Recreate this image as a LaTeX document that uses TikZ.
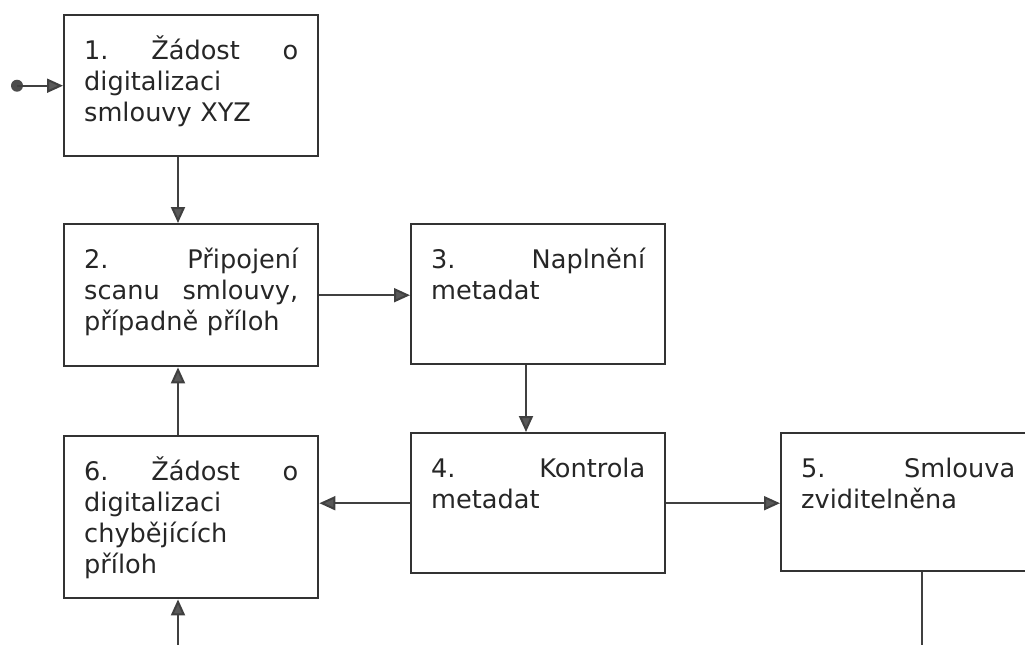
\documentclass[tikz,border=0pt]{standalone}
\usepackage{fontspec}
\setmainfont{DejaVu Sans}
\usetikzlibrary{arrows.meta}

\tikzset{
  krok/.style={draw=black!80, line width=1.2pt, anchor=north west,
    text width=107pt, align=left, inner xsep=10pt, inner ysep=13pt,
    text height=9pt, text=black!85,
    font=\fontsize{12.8}{15.5}\selectfont},
  sipka/.style={draw=black!75, line width=1pt,
    -{Triangle[length=8pt,width=7pt,fill=black!65]}},
}

\begin{document}
\begin{tikzpicture}[x=0.5pt,y=-0.5pt]
  \useasboundingbox (0,0) rectangle (1025,644);
  \clip (0,0) rectangle (1025,644);

  % kroky
  \node[krok, text depth=35.5pt] (n1) at (63,14) {1.\hfill Žádost\hfill o\\ digitalizaci\\ smlouvy XYZ};
  \node[krok, text depth=36pt] (n2) at (63,223) {2.\hfill Připojení\\ scanu\hfill smlouvy,\\ případně příloh};
  \node[krok, text depth=35pt] (n3) at (410,223) {3.\hfill Naplnění\\ metadat};
  \node[krok, text depth=35pt] (n4) at (410,432) {4.\hfill Kontrola\\ metadat};
  \node[krok, text depth=34pt] (n5) at (780,432) {5.\hfill Smlouva\\ zviditelněna};
  \node[krok, text depth=46pt] (n6) at (63,435) {6.\hfill Žádost\hfill o\\ digitalizaci\\ chybějících\\ příloh};

  % vstup
  \coordinate (vstup) at ([xshift=-23pt]n1.west);
  \fill[black!70] (vstup) circle (3pt);
  \draw[sipka] (vstup) -- (n1.west);

  % sipky
  \draw[sipka] ([xshift=57.5pt]n1.south west) -- ([xshift=57.5pt]n2.north west);
  \draw[sipka] (n2.east) -- (n2.east -| n3.west);
  \draw[sipka] ([xshift=58pt]n3.south west) -- ([xshift=58pt]n4.north west);
  \draw[sipka] (n4.west) -- (n4.west -| n6.east);
  \draw[sipka] (n4.east) -- (n4.east -| n5.west);
  \draw[sipka] ([xshift=57.5pt]n6.north west) -- ([xshift=57.5pt]n2.south west);
  \draw[sipka] ([xshift=71pt]n5.south west) -- ++(0,-50pt) -| ([xshift=57.5pt]n6.south west);
\end{tikzpicture}
\end{document}
